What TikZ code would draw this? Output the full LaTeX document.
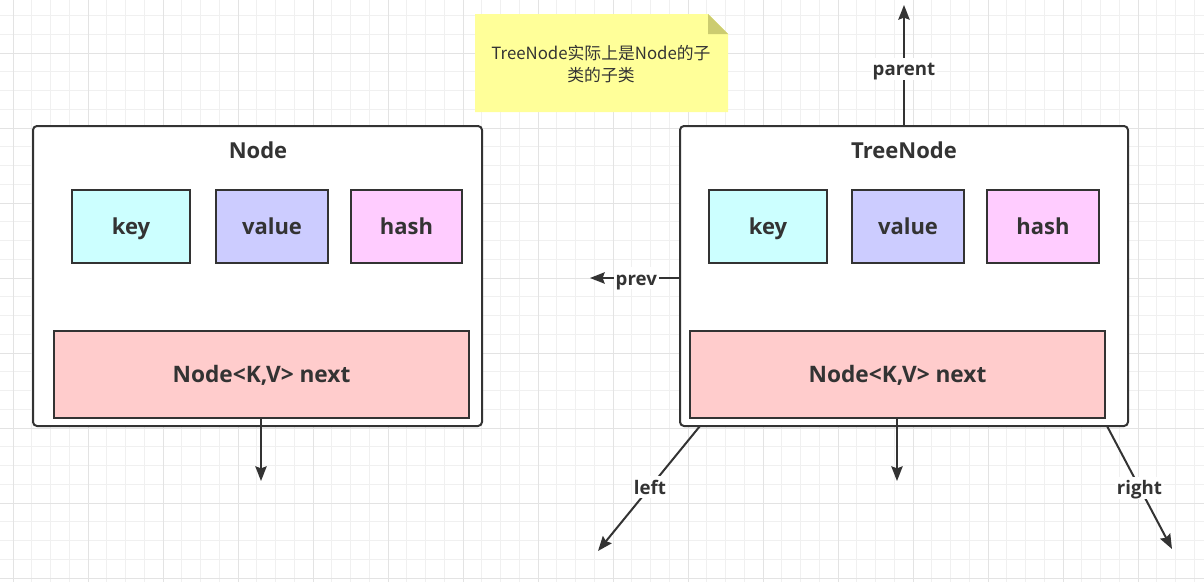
\documentclass[tikz,border=0pt]{standalone}
\usepackage{fontspec}
\setmainfont{Open Sans}
\newfontfamily\cjk{Noto Sans CJK SC}
\usetikzlibrary{arrows.meta}
\definecolor{ink}{HTML}{333333}
\definecolor{keyfill}{HTML}{CCFFFF}
\definecolor{valuefill}{HTML}{CCCCFF}
\definecolor{hashfill}{HTML}{FFCCFF}
\definecolor{nextfill}{HTML}{FFCCCC}
\definecolor{notefill}{HTML}{FFFF99}
\definecolor{notefold}{HTML}{CCCC70}
\tikzset{
	gridminor/.style = {draw = black!6, line width = 0.75pt},
	gridmajor/.style = {draw = black!11, line width = 0.75pt},
	container/.style = {draw = ink, line width = 1.5pt, rounded corners = 3pt, fill = white,
		minimum height = 225pt, inner sep = 0pt},
	field/.style = {draw = ink, line width = 1.5pt, minimum height = 54.75pt, inner sep = 0pt,
		text height = 14pt, text depth = 1.5pt,
		font = \fontsize{16.5}{19}\selectfont\bfseries, text = ink},
	nextbox/.style = {draw = ink, line width = 1.5pt, fill = nextfill, minimum width = 311.25pt,
		minimum height = 65.25pt, inner sep = 0pt, text height = 14pt, text depth = 1.5pt,
		font = \fontsize{17}{20}\selectfont\bfseries, text = ink},
	title/.style = {font = \fontsize{16.5}{19}\selectfont\bfseries, text = ink},
	link/.style = {draw = ink, line width = 1.5pt, -{Stealth[length = 11pt, width = 8.5pt, inset = 1.5pt]}},
	linklabel/.style = {fill = white, inner sep = 1.5pt, text height = 12pt, text depth = 1.5pt,
		font = \fontsize{14}{17}\selectfont\bfseries, text = ink}
}
\begin{document}
\begin{tikzpicture}[x = 0.75pt, y = -0.75pt]
	\useasboundingbox (0,0) rectangle (1204,582);
	% background grid
	\foreach \g in {13,31.75,...,1204} \draw [gridminor] (\g,0) -- (\g,582);
	\foreach \g in {-3.25,15.5,...,582} \draw [gridminor] (0,\g) -- (1204,\g);
	\foreach \g in {13,88,...,1204} \draw [gridmajor] (\g,0) -- (\g,582);
	\foreach \g in {53,128,...,582} \draw [gridmajor] (0,\g) -- (1204,\g);

	% note
	\fill [notefill] (475,14) -- (708,14) -- (728,34) -- (728,112) -- (475,112) -- cycle;
	\fill [notefold] (708,14) -- (728,34) -- (708,34) -- cycle;
	\node (note) at (601,64) [align = center, text = ink, font = \cjk\fontsize{12.6}{16}\selectfont] {TreeNode实际上是Node的子\\类的子类};

	% Node
	\node (node) at (257.5,276) [container, minimum width = 336.75pt] {};
	\node (nodetitle) at (258,150) [title] {Node};
	\node (nodekey) at (131,226.5) [field, fill = keyfill, minimum width = 88.5pt] {key};
	\node (nodevalue) at (272,226.5) [field, fill = valuefill, minimum width = 84pt] {value};
	\node (nodehash) at (406.5,226.5) [field, fill = hashfill, minimum width = 83.25pt] {hash};
	\node (nodenext) at (261.5,374.5) [nextbox] {Node<K,V> next};
	\coordinate (nodenextend) at (261,481);
	\draw [link] (nodenext.south -| nodenextend) -- (nodenextend);

	% TreeNode
	\node (tree) at (904,276) [container, minimum width = 336pt] {};
	\node (treetitle) at (904,150) [title] {TreeNode};
	\node (treekey) at (768,226.5) [field, fill = keyfill, minimum width = 88.5pt] {key};
	\node (treevalue) at (908,226.5) [field, fill = valuefill, minimum width = 84pt] {value};
	\node (treehash) at (1043,226.5) [field, fill = hashfill, minimum width = 84pt] {hash};
	\node (treenext) at (897.5,374.5) [nextbox] {Node<K,V> next};
	\coordinate (treenextend) at (897,481);
	\draw [link] (treenext.south -| treenextend) -- (treenextend);

	% tree links
	\coordinate (parentend) at (904,5);
	\coordinate (prevend) at (590,278);
	\coordinate (leftstart) at (700,426);
	\coordinate (leftend) at (598,551);
	\coordinate (rightstart) at (1107,426);
	\coordinate (rightend) at (1172,549);
	\draw [link] (tree.north) -- (parentend) node [linklabel, pos = 0.47] {parent};
	\draw [link] (tree.west |- prevend) -- (prevend) node [linklabel, pos = 0.48] {prev};
	\draw [link] (leftstart) -- (leftend) node [linklabel, pos = 0.49] {left};
	\draw [link] (rightstart) -- (rightend) node [linklabel, pos = 0.5] {right};
\end{tikzpicture}
\end{document}
